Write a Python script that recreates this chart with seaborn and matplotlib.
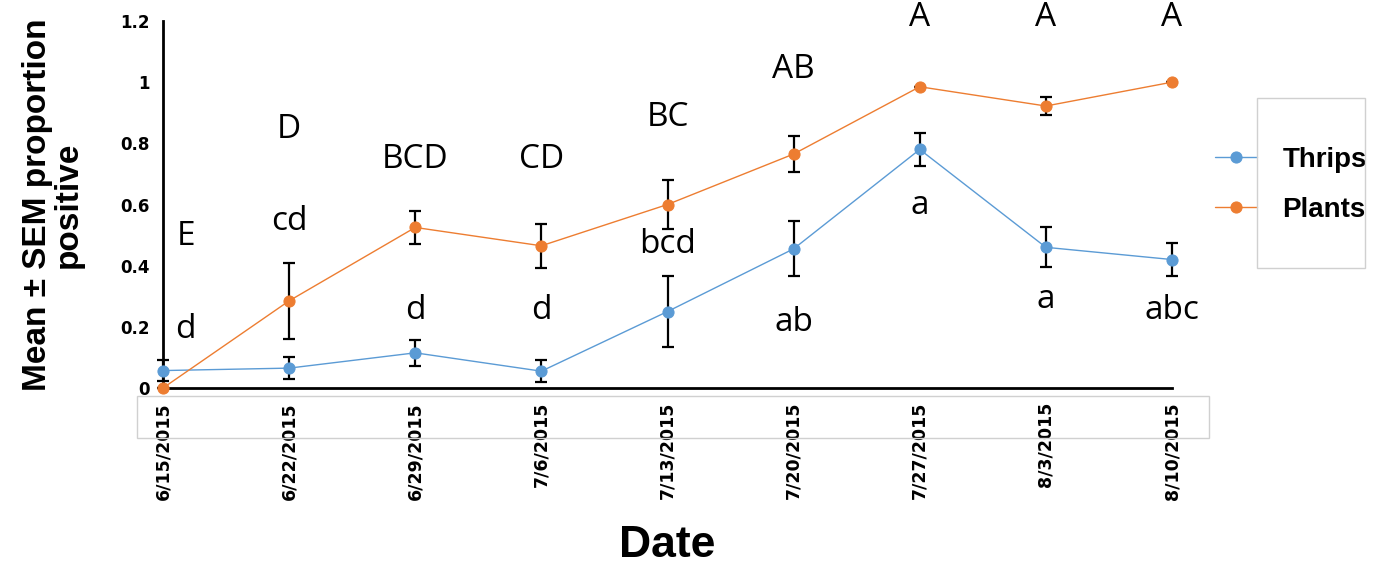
import matplotlib
matplotlib.use('Agg')
import matplotlib.pyplot as plt
import matplotlib.patches as mpatches
import seaborn as sns
import pandas as pd
import numpy as np

# Data
dates = ['6/15/2015', '6/22/2015', '6/29/2015', '7/6/2015', '7/13/2015',
         '7/20/2015', '7/27/2015', '8/3/2015', '8/10/2015']
thrips_mean = [0.057, 0.065, 0.115, 0.055, 0.25, 0.455, 0.78, 0.46, 0.42]
thrips_sem = [0.035, 0.035, 0.043, 0.035, 0.117, 0.09, 0.055, 0.065, 0.055]
plants_mean = [0.0, 0.285, 0.525, 0.465, 0.60, 0.765, 0.985, 0.922, 1.0]
plants_sem = [0.0, 0.125, 0.055, 0.072, 0.08, 0.06, 0.0, 0.03, 0.0]

# significance letters (plants upper case, thrips lower case) and their heights
plants_letters = ['E', 'D', 'BCD', 'CD', 'BC', 'AB', 'A', 'A', 'A']
plants_letter_y = [0.494, 0.844, 0.746, 0.746, 0.886, 1.04, 1.21, 1.21, 1.21]
thrips_letters = ['d', 'cd', 'd', 'd', 'bcd', 'ab', 'a', 'a', 'abc']
thrips_letter_y = [0.19, 0.543, 0.255, 0.255, 0.468, 0.213, 0.598, 0.288, 0.255]

blue = '#5B9BD5'
orange = '#ED7D31'

sns.set_style('white')
plt.rcParams['font.family'] = ['DejaVu Sans']
plt.rcParams['text.color'] = 'black'
plt.rcParams['axes.labelcolor'] = 'black'
plt.rcParams['xtick.color'] = 'black'
plt.rcParams['ytick.color'] = 'black'

df = pd.DataFrame({
    'pos': list(range(len(dates))) * 2,
    'mean': thrips_mean + plants_mean,
    'sem': thrips_sem + plants_sem,
    'series': ['Thrips'] * len(dates) + ['Plants'] * len(dates),
})

fig = plt.figure(figsize=(13.75, 5.64), dpi=100)
ax = fig.add_axes([163 / 1375, 1 - 388 / 564, (1172 - 163) / 1375, (388 - 21) / 564])

for name, color in [('Thrips', blue), ('Plants', orange)]:
    sub = df[df['series'] == name]
    ax.errorbar(sub['pos'], sub['mean'], yerr=sub['sem'], fmt='none',
                ecolor='black', elinewidth=1.6, capsize=4, capthick=1.6, zorder=2, clip_on=False)
    sns.lineplot(data=sub, x='pos', y='mean', color=color, marker='o', markersize=8,
                 markeredgecolor=color, linewidth=1.0, label=name, ax=ax, zorder=3,
                 clip_on=False)

ax.set_xlim(0, len(dates) - 1)
ax.set_ylim(0, 1.2)
ax.set_xticks(range(len(dates)))
ax.set_xticklabels(dates, rotation=90, fontsize=12.5, fontweight='bold')
yt = np.arange(0, 1.21, 0.2)
ax.set_yticks(yt)
ax.set_yticklabels([f'{v:g}' for v in np.round(yt, 1)], fontsize=12, fontweight='bold')
ax.tick_params(axis='both', direction='out', length=6, width=1.5, color='black')
ax.tick_params(axis='x', pad=4)

for s in ['top', 'right']:
    ax.spines[s].set_visible(False)
for s in ['left', 'bottom']:
    ax.spines[s].set_color('black')
    ax.spines[s].set_linewidth(2)

ax.set_ylabel('Mean ± SEM proportion\npositive', fontsize=24, fontweight='bold',
              family='Liberation Sans', labelpad=26, linespacing=1.0)
ax.set_xlabel('Date', fontsize=32, fontweight='bold', family='Liberation Sans', labelpad=18)

# letters
for i in range(len(dates)):
    dx = 0.18 if i == 0 else 0
    ax.text(i + dx, plants_letter_y[i], plants_letters[i], ha='center', va='center',
            fontsize=24, family='Open Sans', clip_on=False)
    ax.text(i + dx, thrips_letter_y[i], thrips_letters[i], ha='center', va='center',
            fontsize=24, family='Open Sans', clip_on=False)

# thin grey frame around the tick labels
fig.patches.append(mpatches.Rectangle((0.0996, 0.2234), 0.780, 0.0745, transform=fig.transFigure,
                                      fill=False, edgecolor='#d0d0d0', linewidth=1))

# legend with box to the right of the markers
leg = ax.legend(loc='upper left', bbox_to_anchor=(1215 / 1375, 1 - 147 / 564),
                bbox_transform=fig.transFigure, frameon=False,
                prop={'weight': 'bold', 'size': 20, 'family': 'Liberation Sans'},
                handlelength=1.5, handletextpad=0.93, labelspacing=0.85, borderpad=0,
                borderaxespad=0)
fig.patches.append(mpatches.Rectangle((1257 / 1375, 1 - 268 / 564), 108 / 1375, 170 / 564,
                                      transform=fig.transFigure, fill=False,
                                      edgecolor='#d0d0d0', linewidth=1))

fig.savefig('out.png', dpi=100)
